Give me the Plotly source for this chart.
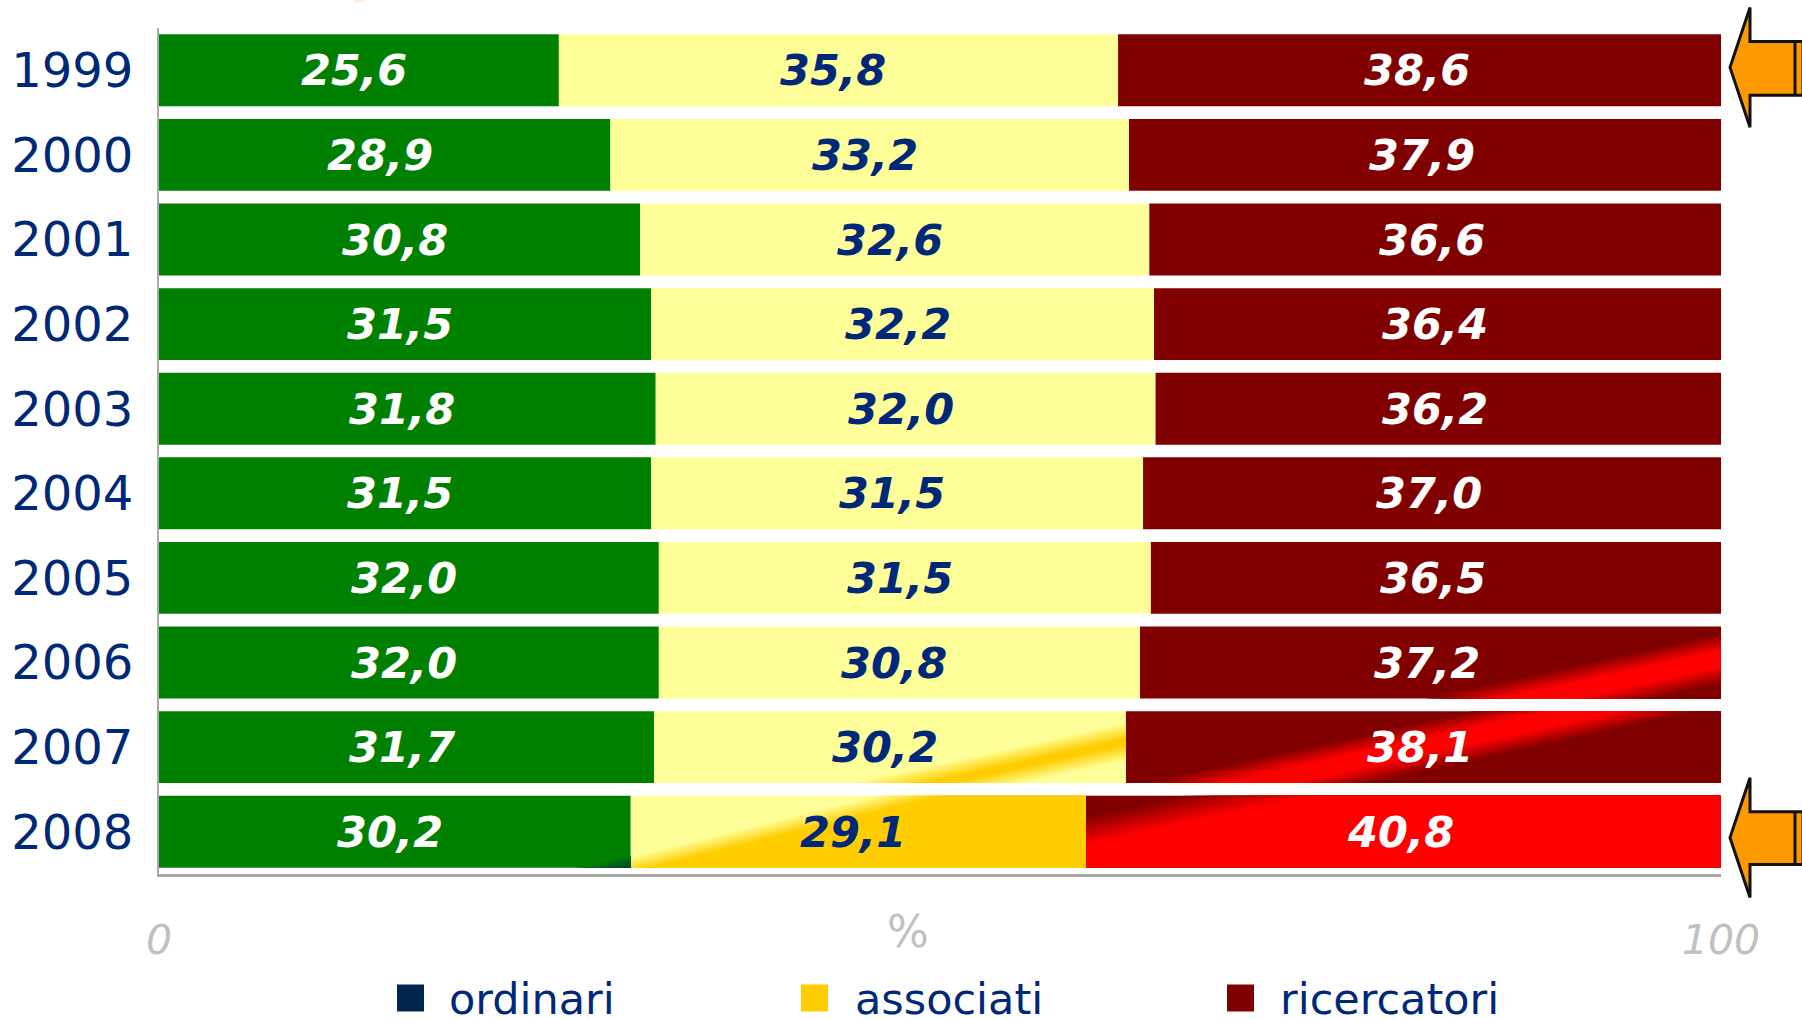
import plotly.graph_objects as go

years = ["1999", "2000", "2001", "2002", "2003", "2004", "2005", "2006", "2007", "2008"]
ordinari = [25.6, 28.9, 30.8, 31.5, 31.8, 31.5, 32.0, 32.0, 31.7, 30.2]
associati = [35.8, 33.2, 32.6, 32.2, 32.0, 31.5, 31.5, 30.8, 30.2, 29.1]
ricercatori = [38.6, 37.9, 36.6, 36.4, 36.2, 37.0, 36.5, 37.2, 38.1, 40.8]
legend_names = ["ordinari", "associati", "ricercatori"]

W, H = 1802, 1019
L, R, T, B = 159, 1721, 27.6, 874.4
NAVY = "#002878"
GREEN, PALE, DARK = "#008000", "#FFFF99", "#800000"
RED, GOLD, DEEP = "#FF0000", "#FFCC00", "#00264D"
BAR_W = 0.85
SLOPE = -0.0405


def paper_x(x):
    return (x - L) / (R - L)


def paper_y(y):
    return (B - y) / (B - T)


def hex2rgb(c):
    return tuple(int(c[i:i + 2], 16) for i in (1, 3, 5))


def mix(a, b, t):
    a, b = hex2rgb(a), hex2rgb(b)
    return "rgb(%d,%d,%d)" % tuple(round(a[i] + (b[i] - a[i]) * t) for i in range(3))


def clip(poly, xa, ya, m, d):
    f = lambda p: p[1] - (ya + m * (p[0] - xa)) - d
    out = []
    for i, p in enumerate(poly):
        q = poly[(i + 1) % len(poly)]
        fp, fq = f(p), f(q)
        if fp >= 0:
            out.append(p)
        if (fp >= 0) != (fq >= 0):
            t = fp / (fp - fq)
            out.append((p[0] + t * (q[0] - p[0]), p[1] + t * (q[1] - p[1])))
    return out


def band_shapes(row, x0, x1, xa, ya, m, stops, steps=14):
    rect = [(x0, row - BAR_W / 2), (x1, row - BAR_W / 2), (x1, row + BAR_W / 2), (x0, row + BAR_W / 2)]
    res = []
    for (d0, c0), (d1, c1) in zip(stops, stops[1:]):
        for k in range(steps):
            d = d0 + (d1 - d0) * k / steps
            poly = clip(rect, xa, ya, m, d)
            if len(poly) < 3:
                continue
            path = "M" + "L".join("%.4f,%.4f" % p for p in poly) + "Z"
            res.append(dict(type="path", path=path, xref="x", yref="y", layer="above",
                            line=dict(width=0), fillcolor=mix(c0, c1, (k + 1) / steps)))
    return res


rows = list(range(len(years)))
fig = go.Figure()
series = [("ordinari", ordinari, GREEN, "white", -5), ("associati", associati, PALE, NAVY, -5),
          ("ricercatori", ricercatori, DARK, "white", -3)]
base = [0.0] * len(years)
annotations = []
starts = {}
for name, vals, color, tc, shift in series:
    fig.add_bar(y=rows, x=vals, base=base, orientation="h", name=name, width=BAR_W,
                marker=dict(color=color, line=dict(width=0)), showlegend=False, hoverinfo="x+y")
    starts[name] = list(base)
    for r, (b, v) in enumerate(zip(base, vals)):
        annotations.append(dict(x=b + v / 2, y=r, xref="x", yref="y", text=("%.1f" % v).replace(".", ","),
                                showarrow=False, xshift=shift, yshift=0,
                                font=dict(family="DejaVu Sans", size=43, color=tc, weight="bold", style="italic")))
    base = [b + v for b, v in zip(base, vals)]

shapes = []


def seg(name, vals, r):
    return starts[name][r], starts[name][r] + vals[r]


# highlight sweep across the last bars
x0, x1 = seg("ricercatori", ricercatori, 7)
shapes += band_shapes(7, x0, x1, 100, 6.96, SLOPE,
                      [(-0.3, DARK), (-0.09, RED), (0.09, RED), (0.3, DARK)])
x0, x1 = seg("ricercatori", ricercatori, 8)
shapes += band_shapes(8, x0, x1, 91.6, 7.57, SLOPE,
                      [(-0.3, DARK), (-0.09, RED), (0.09, RED), (0.3, DARK)])
x0, x1 = seg("associati", associati, 8)
shapes += band_shapes(8, x0, x1, 61.5, 7.96, SLOPE,
                      [(-0.23, PALE), (-0.03, GOLD), (0.03, GOLD), (0.23, PALE)])
x0, x1 = seg("ricercatori", ricercatori, 9)
shapes += band_shapes(9, x0, x1, 59.6, 8.99, SLOPE, [(-0.17, DARK), (0.17, RED)])
x0, x1 = seg("associati", associati, 9)
shapes += band_shapes(9, x0, x1, 39.7, 8.96, -0.046, [(-0.1, PALE), (0.1, GOLD)])
x0, x1 = seg("ordinari", ordinari, 9)
shapes += band_shapes(9, x0, x1, 30.2, 9.38, SLOPE, [(-0.1, GREEN), (0.12, DEEP)])

# arrows
for tip, top, stop, sbot, bot in [(67, 7, 41, 95, 127), (838, 778, 812, 865, 898)]:
    pts = [(1730, tip), (1750, top), (1750, stop), (1803, stop), (1803, sbot), (1750, sbot), (1750, bot)]
    path = "M" + "L".join("%.5f,%.5f" % (paper_x(a), paper_y(b)) for a, b in pts) + "Z"
    shapes.append(dict(type="path", path=path, xref="paper", yref="paper", layer="above",
                       fillcolor="#FF9900", line=dict(color="#111111", width=3)))
    shapes.append(dict(type="line", xref="paper", yref="paper", layer="above",
                       x0=paper_x(1795), x1=paper_x(1795), y0=paper_y(stop), y1=paper_y(sbot),
                       line=dict(color="#111111", width=3)))

# clipped ornament at the very top edge
shapes.append(dict(type="rect", xref="paper", yref="paper", x0=paper_x(354), x1=paper_x(365),
                   y0=paper_y(1.5), y1=paper_y(0), fillcolor="#FFE9CC", line=dict(width=0)))

# legend
for name, sx, tx, col in zip(legend_names, [397, 801, 1227], [447, 853, 1278], [DEEP, GOLD, DARK]):
    shapes.append(dict(type="rect", xref="paper", yref="paper", x0=paper_x(sx), x1=paper_x(sx + 27),
                       y0=paper_y(1012), y1=paper_y(985), fillcolor=col, line=dict(width=0)))
    annotations.append(dict(x=paper_x(tx), y=paper_y(1000), xref="paper", yref="paper", text=name,
                            xanchor="left", yanchor="middle", showarrow=False,
                            font=dict(family="DejaVu Sans", size=43, color=NAVY)))

annotations.append(dict(x=paper_x(908), y=paper_y(932), xref="paper", yref="paper", text="%", showarrow=False,
                        xanchor="center", yanchor="middle",
                        font=dict(family="DejaVu Sans", size=44, color="#C0C0C0")))

fig.update_layout(
    width=W, height=H, autosize=False, barmode="overlay", plot_bgcolor="white", paper_bgcolor="white",
    margin=dict(l=L, r=W - R, t=T, b=H - B, pad=0), showlegend=False,
    shapes=shapes, annotations=annotations,
    xaxis=dict(range=[0, 100], tickvals=[0, 100], ticktext=["0", "100"], showgrid=False, zeroline=False,
               automargin=False,
               showline=True, linecolor="#A6A6A6", linewidth=3, ticks="", ticklabelstandoff=28,
               tickfont=dict(family="DejaVu Sans", size=41, color="#C0C0C0", style="italic")),
    yaxis=dict(range=[9.5, -0.5], tickvals=rows, ticktext=years, showgrid=False, zeroline=False,
               automargin=False,
               showline=True, linecolor="#AAAAAA", linewidth=2, ticks="", ticklabelstandoff=14,
               tickfont=dict(family="DejaVu Sans", size=48, color=NAVY)),
)
fig.write_html("out.html", config=dict(displayModeBar=False),
               post_script="document.body.style.margin='0';document.body.style.overflow='hidden';")
